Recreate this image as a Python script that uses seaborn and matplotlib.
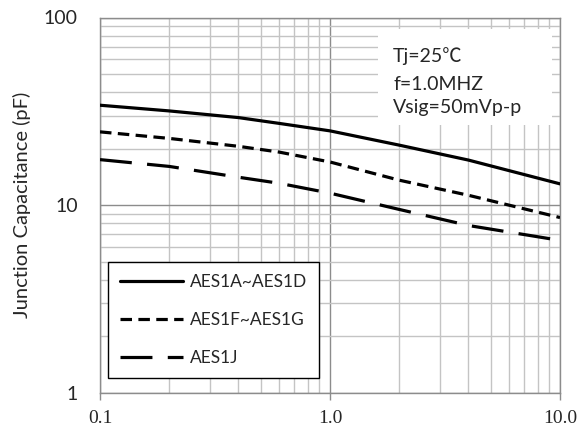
import numpy as np
import pandas as pd
import seaborn as sns
import matplotlib
matplotlib.use('Agg')
import matplotlib.pyplot as plt
from matplotlib.patches import Rectangle
from matplotlib.ticker import FixedLocator, NullFormatter, LogLocator

# reverse voltage (V) and junction capacitance (pF)
volts = [0.1, 0.2, 0.4, 0.6, 1.0, 2.0, 4.0, 10.0]
cap_a_d = [34.1, 31.8, 29.3, 27.3, 24.9, 20.9, 17.4, 13.0]
cap_f_g = [24.6, 22.7, 20.6, 19.2, 17.0, 13.6, 11.3, 8.6]
cap_j = [17.5, 16.1, 14.1, 13.1, 11.6, 9.5, 7.8, 6.5]
series_names = ['AES1A~AES1D', 'AES1F~AES1G', 'AES1J']

x_ticks = [0.1, 1.0, 10.0]
x_labels = ['0.1', '1.0', '10.0']
y_ticks = [1, 10, 100]
y_labels = ['1', '10', '100']
notes = ['Tj=25℃', 'f=1.0MHZ', 'Vsig=50mVp-p']

df = pd.concat([
    pd.DataFrame({'V': volts, 'C': vals, 'part': name})
    for name, vals in zip(series_names, [cap_a_d, cap_f_g, cap_j])
])

sns.set_theme(style='white')
sans = ['Lato', 'Noto Sans CJK SC', 'DejaVu Sans']
plt.rcParams['font.family'] = sans

fig = plt.figure(figsize=(5.79, 4.30), dpi=100)
ax = fig.add_axes([100 / 579, 1 - 393 / 430, 460 / 579, 375.5 / 430])

dash_map = {
    'AES1A~AES1D': '',
    'AES1F~AES1G': (3.6, 2.0),
    'AES1J': (10, 4.8),
}
sns.lineplot(data=df, x='V', y='C', hue='part', style='part',
             palette=['black'] * 3, dashes=dash_map, linewidth=2.3,
             ax=ax, legend=False, zorder=3)

ax.set_xscale('log')
ax.set_yscale('log')
ax.set_xlim(0.1, 10)
ax.set_ylim(1, 100)

ax.xaxis.set_major_locator(FixedLocator(x_ticks))
ax.set_xticklabels(x_labels, family='Liberation Serif', fontsize=14)
ax.xaxis.set_minor_locator(LogLocator(base=10, subs=np.arange(2, 10)))
ax.xaxis.set_minor_formatter(NullFormatter())
ax.yaxis.set_major_locator(FixedLocator(y_ticks))
ax.set_yticklabels(y_labels, fontsize=14)
ax.yaxis.set_minor_locator(LogLocator(base=10, subs=np.arange(2, 10)))
ax.yaxis.set_minor_formatter(NullFormatter())

ax.tick_params(axis='x', which='major', direction='out', length=5, width=1,
               color='#8c8c8c', pad=7, bottom=True)
ax.tick_params(axis='x', which='minor', length=0)
ax.tick_params(axis='y', which='both', length=0, pad=16)

ax.grid(which='minor', color='#c4c4c4', linewidth=1.0)
ax.grid(which='major', color='#8c8c8c', linewidth=1.0)
ax.set_axisbelow(True)
for s in ax.spines.values():
    s.set_color('#8c8c8c')
    s.set_linewidth(1.0)

ax.set_xlabel('')
ax.set_ylabel('Junction Capacitance (pF)', fontsize=14.5, labelpad=9)

# white note box in upper right
ax.add_patch(Rectangle((0.604, 0.714), 0.379, 0.255, transform=ax.transAxes,
                       facecolor='white', edgecolor='none', zorder=2))
for txt, yy in zip(notes, [0.881, 0.807, 0.746]):
    ax.text(0.637, yy, txt, transform=ax.transAxes, fontsize=14,
            va='baseline', ha='left', family=sans, zorder=4)

# legend
handles = [
    plt.Line2D([], [], color='black', lw=2.3, linestyle='-'),
    plt.Line2D([], [], color='black', lw=2.3, linestyle=(0, (3.6, 2.0))),
    plt.Line2D([], [], color='black', lw=2.3, linestyle=(0, (10, 4.8))),
]
leg = ax.legend(handles, series_names, loc='lower left',
                bbox_to_anchor=(0.0174, 0.040), borderaxespad=0,
                fontsize=12.5, handlelength=3.6, handletextpad=0.4,
                labelspacing=1.25, borderpad=0.7, fancybox=False,
                frameon=True, framealpha=1)
leg.get_frame().set_edgecolor('black')
leg.get_frame().set_linewidth(1.0)
leg.set_zorder(5)

fig.savefig('out.png', dpi=100)
